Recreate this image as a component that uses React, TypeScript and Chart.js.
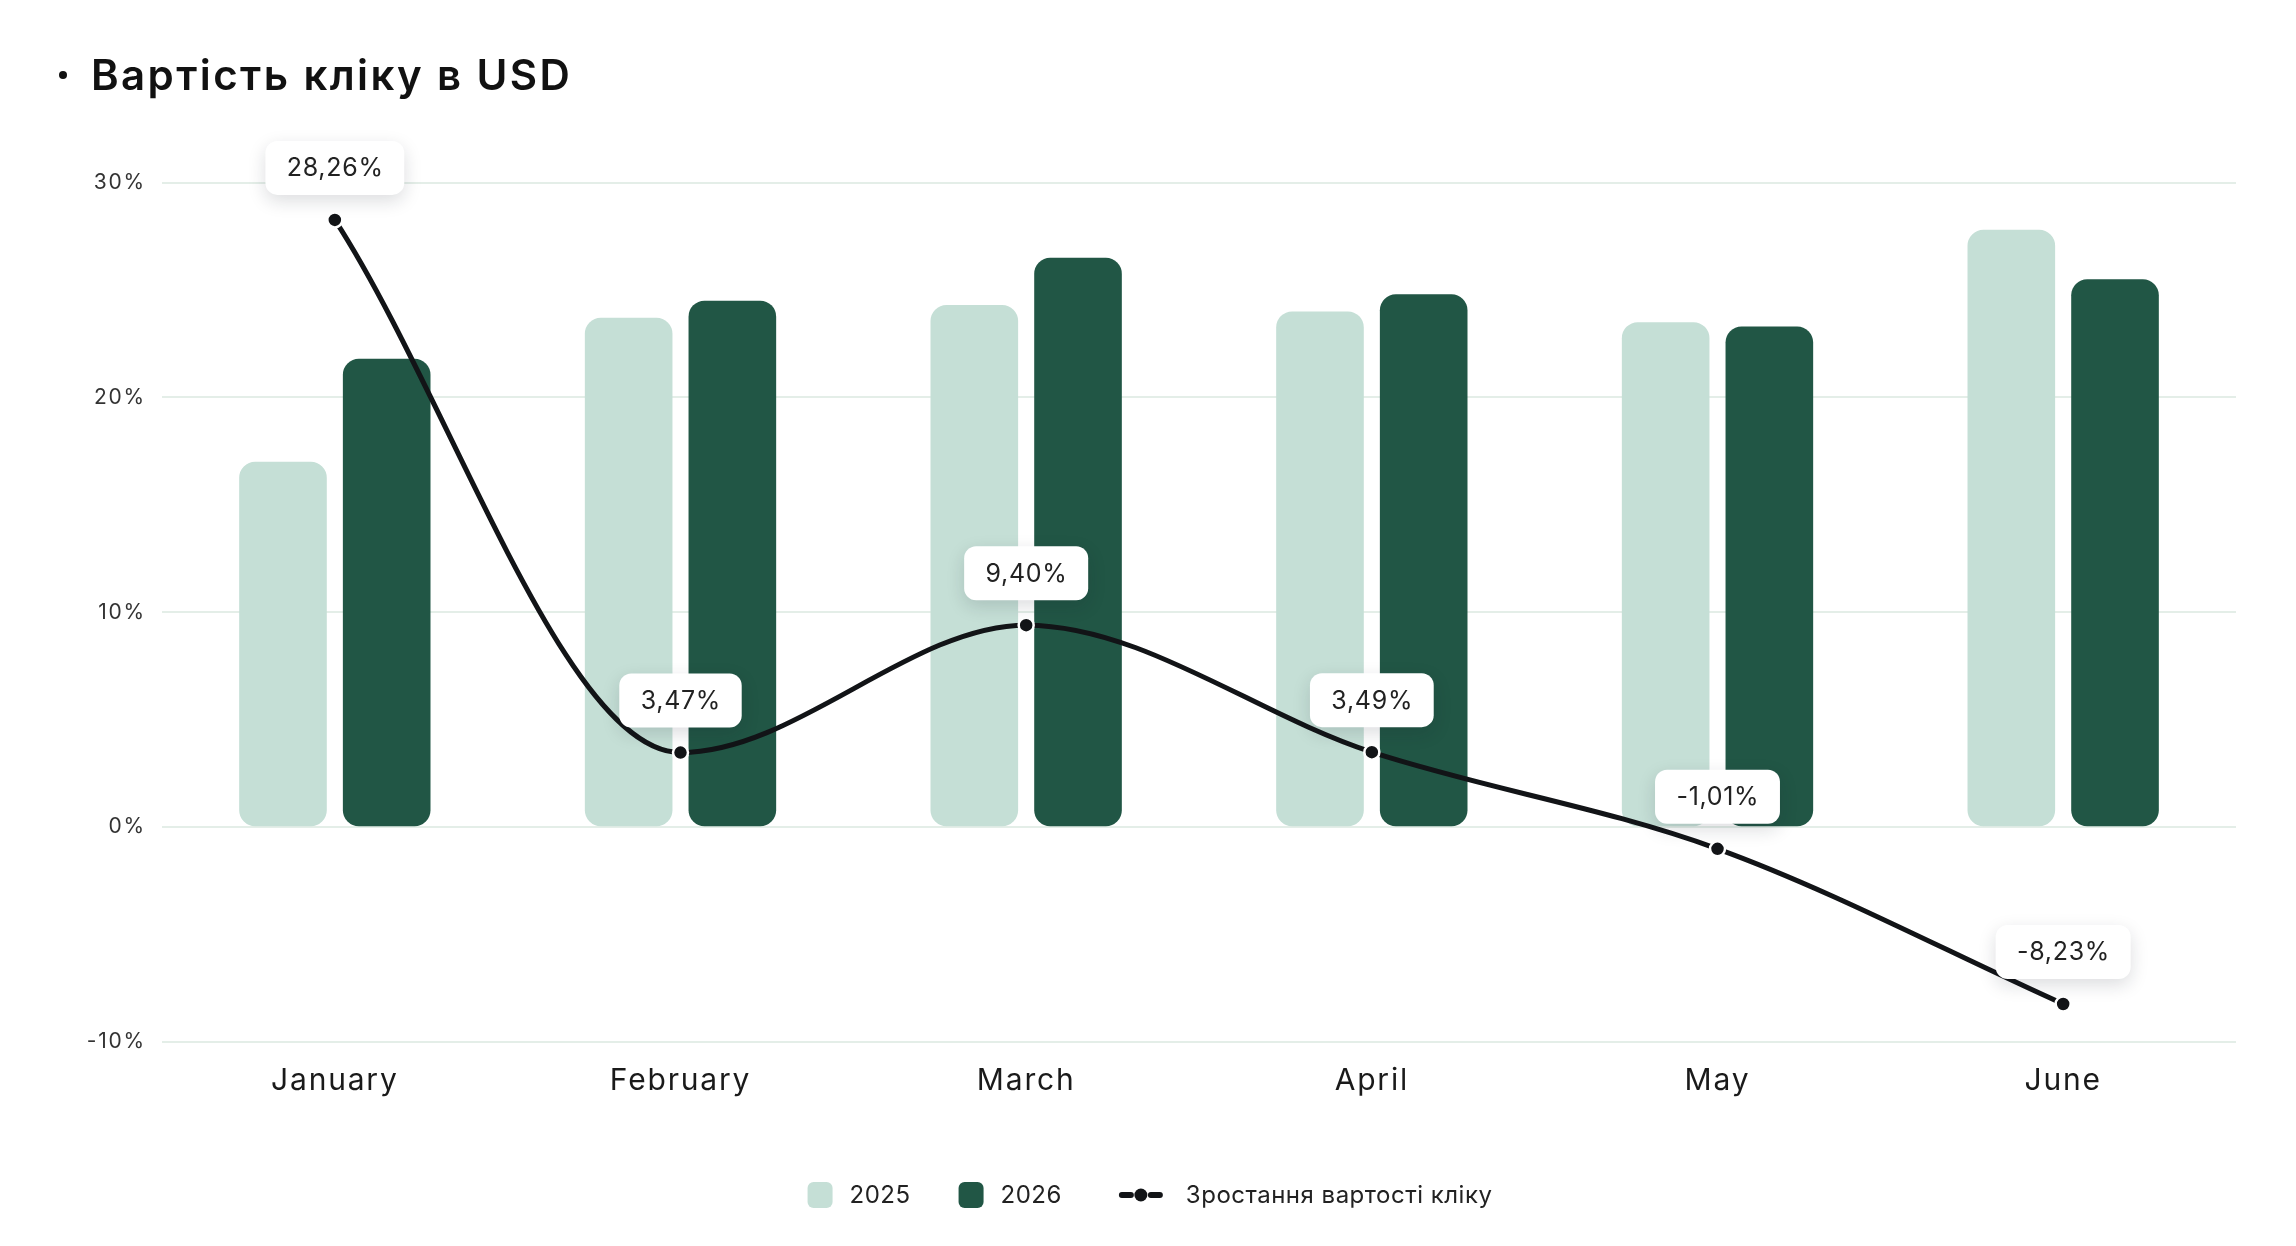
import React, { useEffect, useRef } from 'react';
import { Chart, registerables } from 'chart.js';

Chart.register(...registerables);

const W = 2296;
const H = 1246;
const FONT = 'Inter, "Noto Sans", sans-serif';

const chartTitle = 'Вартість кліку в USD';
const months = ['January', 'February', 'March', 'April', 'May', 'June'];
const cpc2025 = [17.0, 23.7, 24.3, 24.0, 23.5, 27.8];
const cpc2026 = [21.8, 24.5, 26.5, 24.8, 23.3, 25.5];
const growth = [28.26, 3.47, 9.4, 3.49, -1.01, -8.23];
const growthLabels = ['28,26%', '3,47%', '9,40%', '3,49%', '-1,01%', '-8,23%'];
const yTicks = [-10, 0, 10, 20, 30];
const seriesNames = ['2025', '2026', 'Зростання вартості кліку'];

const COLOR_2025 = '#c5dfd6';
const COLOR_2026 = '#215645';
const COLOR_LINE = '#121417';

const spacingPlugin = {
  id: 'letterSpacing',
  beforeDraw(chart: any) {
    (chart.ctx as any).letterSpacing = '1.8px';
  },
};

const titlePlugin = {
  id: 'customTitle',
  afterDraw(chart: any) {
    const ctx = chart.ctx as CanvasRenderingContext2D;
    ctx.save();
    (ctx as any).letterSpacing = '2.4px';
    ctx.fillStyle = '#111';
    ctx.beginPath();
    ctx.arc(63, 75, 4, 0, Math.PI * 2);
    ctx.fill();
    ctx.font = `600 42px ${FONT}`;
    ctx.textAlign = 'left';
    ctx.textBaseline = 'alphabetic';
    ctx.fillText(chartTitle, 91, 90);
    ctx.restore();
  },
};

const valueLabelPlugin = {
  id: 'valueLabels',
  afterDatasetsDraw(chart: any) {
    const ctx = chart.ctx as CanvasRenderingContext2D;
    const meta = chart.getDatasetMeta(2);
    ctx.save();
    (ctx as any).letterSpacing = '0.7px';
    ctx.font = `400 25px ${FONT}`;
    meta.data.forEach((pt: any, i: number) => {
      const text = growthLabels[i];
      const tw = ctx.measureText(text).width;
      const bw = tw + 42;
      const bh = 54;
      const cx = pt.x;
      const cy = pt.y - 52;
      ctx.save();
      ctx.shadowColor = 'rgba(20,30,40,0.15)';
      ctx.shadowBlur = 18;
      ctx.shadowOffsetY = 6;
      ctx.fillStyle = '#ffffff';
      ctx.beginPath();
      (ctx as any).roundRect(cx - bw / 2, cy - bh / 2, bw, bh, 12);
      ctx.fill();
      ctx.restore();
      ctx.fillStyle = '#222';
      ctx.textAlign = 'center';
      ctx.textBaseline = 'middle';
      ctx.fillText(text, cx + 0.4, cy + 1);
    });
    ctx.restore();
  },
};

const legendPlugin = {
  id: 'customLegend',
  afterDraw(chart: any) {
    const ctx = chart.ctx as CanvasRenderingContext2D;
    ctx.save();
    (ctx as any).letterSpacing = '0.5px';
    ctx.font = `400 24px ${FONT}`;
    const y = 1195;
    const boxW = 25;
    const lineW = 44;
    const textGap = 17;
    const lineTextGap = 23;
    const itemGap = 48;
    const lineGap = 57;
    const t = seriesNames.map((n) => ctx.measureText(n).width);
    const total =
      boxW + textGap + t[0] + itemGap + boxW + textGap + t[1] + lineGap + lineW + lineTextGap + t[2];
    let x = 1150 - total / 2;
    const colors = [COLOR_2025, COLOR_2026];
    ctx.textAlign = 'left';
    ctx.textBaseline = 'middle';
    for (let i = 0; i < 2; i++) {
      ctx.fillStyle = colors[i];
      ctx.beginPath();
      (ctx as any).roundRect(x, y - 13, boxW, 26, 6);
      ctx.fill();
      x += boxW + textGap;
      ctx.fillStyle = '#222';
      ctx.fillText(seriesNames[i], x, y + 1);
      x += t[i] + (i === 0 ? itemGap : lineGap);
    }
    // line symbol
    ctx.strokeStyle = COLOR_LINE;
    ctx.lineWidth = 6;
    ctx.lineCap = 'round';
    ctx.beginPath();
    ctx.moveTo(x + 3, y);
    ctx.lineTo(x + 12, y);
    ctx.moveTo(x + lineW - 12, y);
    ctx.lineTo(x + lineW - 3, y);
    ctx.stroke();
    ctx.fillStyle = COLOR_LINE;
    ctx.beginPath();
    ctx.arc(x + lineW / 2, y, 6.5, 0, Math.PI * 2);
    ctx.fill();
    x += lineW + lineTextGap;
    ctx.fillStyle = '#222';
    ctx.fillText(seriesNames[2], x, y + 1);
    ctx.restore();
  },
};

export default function App() {
  const ref = useRef<HTMLCanvasElement>(null);
  useEffect(() => {
    document.body.style.margin = '0';
    if (!ref.current) return;
    const chart = new Chart(ref.current, {
      data: {
        labels: months,
        datasets: [
          {
            type: 'bar',
            label: seriesNames[0],
            data: cpc2025,
            backgroundColor: COLOR_2025,
            borderRadius: 16,
            borderSkipped: false,
            categoryPercentage: 0.6,
            barPercentage: 0.845,
            order: 2,
          },
          {
            type: 'bar',
            label: seriesNames[1],
            data: cpc2026,
            backgroundColor: COLOR_2026,
            borderRadius: 16,
            borderSkipped: false,
            categoryPercentage: 0.6,
            barPercentage: 0.845,
            order: 2,
          },
          {
            type: 'line',
            label: seriesNames[2],
            data: growth,
            borderColor: COLOR_LINE,
            borderWidth: 5,
            cubicInterpolationMode: 'monotone',
            pointRadius: 7.5,
            pointBorderWidth: 2.5,
            pointBackgroundColor: COLOR_LINE,
            pointBorderColor: '#ffffff',
            fill: false,
            order: 0,
          },
        ],
      } as any,
      options: {
        responsive: false,
        devicePixelRatio: 1,
        animation: false,
        events: [],
        layout: { padding: { top: 182.5, right: 60, bottom: 0, left: 0 } },
        plugins: {
          legend: { display: false },
          title: { display: false },
          tooltip: { enabled: false },
        },
        scales: {
          x: {
            grid: { display: false, drawTicks: false },
            border: { display: false },
            ticks: { font: { family: FONT, size: 30, weight: 400 }, color: '#1a1a1a', padding: 21 },
            afterFit(a: any) {
              a.height = 204;
            },
          },
          y: {
            min: -10,
            max: 30,
            afterBuildTicks(a: any) {
              a.ticks = yTicks.map((v) => ({ value: v }));
            },
            ticks: {
              callback: (v: any) => `${v}%`,
              font: { family: FONT, size: 21, weight: 400 },
              color: '#333',
              padding: 16,
            },
            grid: { color: '#e4eee8', lineWidth: 2, drawTicks: false },
            border: { display: false },
            afterFit(a: any) {
              a.width = 162;
            },
          },
        },
      } as any,
      plugins: [spacingPlugin, valueLabelPlugin, titlePlugin, legendPlugin],
    });
    return () => chart.destroy();
  }, []);
  return (
    <div style={{ width: W, height: H, background: '#fff' }}>
      <canvas ref={ref} width={W} height={H} style={{ display: 'block', width: W, height: H }} />
    </div>
  );
}
